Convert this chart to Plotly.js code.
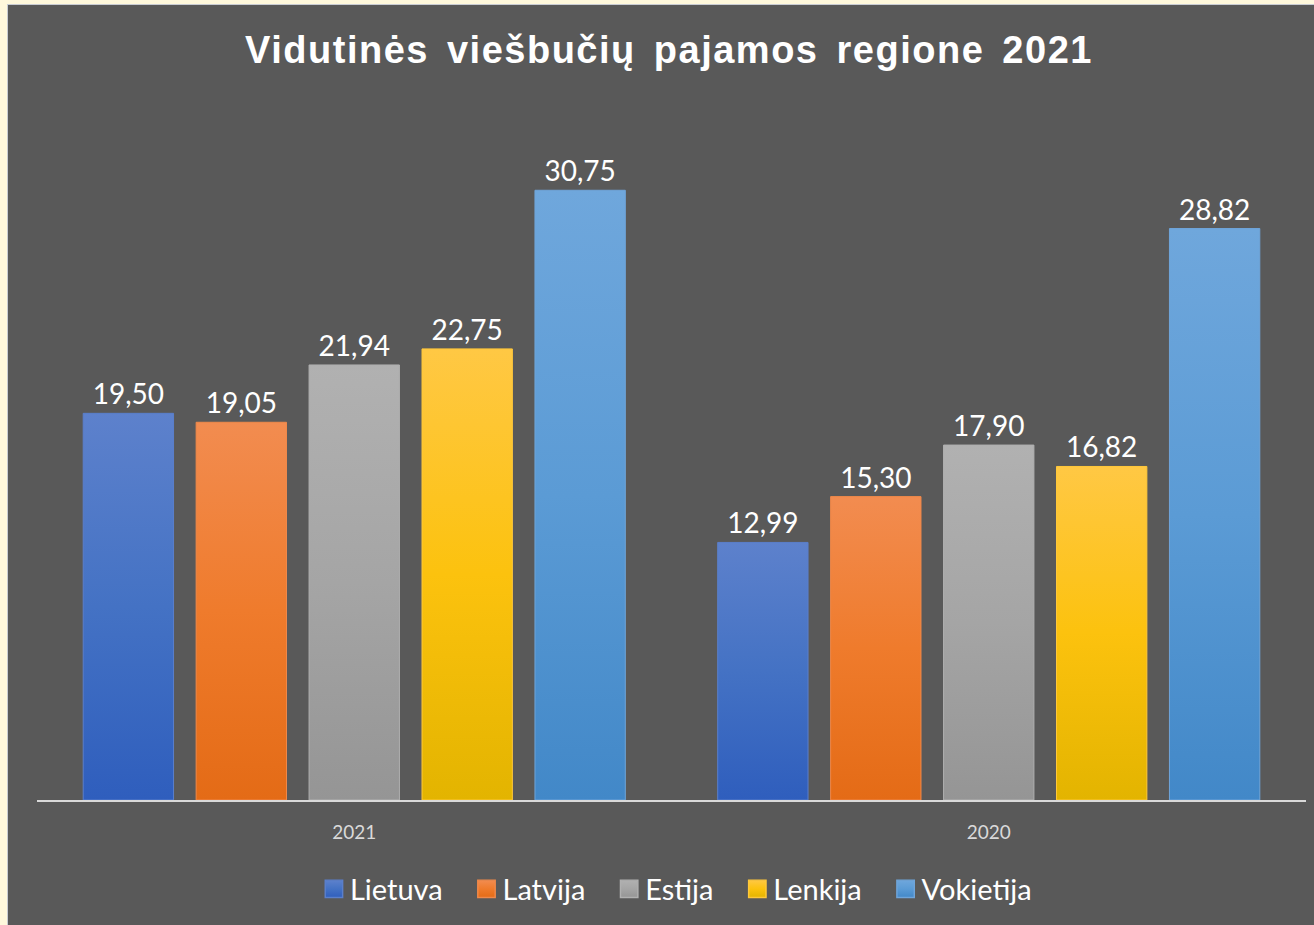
<!DOCTYPE html>
<html>
<head>
<meta charset="utf-8">
<script src="https://cdn.plot.ly/plotly-3.0.1.min.js"></script>
<style>
  html, body { margin:0; padding:0; background:#FFF8DC; width:1314px; height:925px; overflow:hidden; }
  #chart { position:absolute; left:7px; top:4px; width:1307px; height:921px; border-left:1px solid #c9ccd3; border-top:1px solid #c9ccd3; box-sizing:border-box; }
  #chart .gtitle { letter-spacing:1.5px !important; word-spacing:6px !important; }
</style>
</head>
<body>
<div id="chart"></div>
<script>
const categories = ["2021", "2020"];
const seriesNames = ["Lietuva", "Latvija", "Estija", "Lenkija", "Vokietija"];
const lietuva = [19.50, 12.99];
const latvija = [19.05, 15.30];
const estija = [21.94, 17.90];
const lenkija = [22.75, 16.82];
const vokietija = [30.75, 28.82];
const seriesValues = [lietuva, latvija, estija, lenkija, vokietija];
const colors = ["#4472C4", "#EF7B2C", "#A5A5A5", "#FCC20E", "#5B9BD5"];
const topColors = ["#5D81CC", "#F28C50", "#B1B1B1", "#FFC844", "#6FA7DC"];
const bottomColors = ["#2F5EBD", "#E46B16", "#959595", "#E3B400", "#4288C8"];
const edgeColors = ["#5A7FCB", "#F0894A", "#B0B0B0", "#FFC83A", "#6FA5DA"];

const traces = seriesNames.map((name, i) => ({
  type: "bar",
  name: i < seriesNames.length - 1 ? name + "\u00a0\u00a0" : name,
  x: categories,
  y: seriesValues[i],
  marker: { color: colors[i], line: { color: edgeColors[i], width: 1 } },
  texttemplate: "%{y:.2f}",
  textposition: "outside",
  cliponaxis: false,
  textfont: { family: "Lato, 'Open Sans', sans-serif", size: 28, color: "#ffffff" },
  hoverinfo: "skip"
}));

const layout = {
  width: 1306,
  height: 920,
  paper_bgcolor: "#595959",
  plot_bgcolor: "#595959",
  separators: ", ",
  margin: { l: 29, r: 8, t: 101, b: 125 },
  title: {
    text: "<b>Vidutinės viešbučių pajamos regione 2021</b>",
    font: { family: "'Liberation Sans', Arial, sans-serif", size: 38, color: "#ffffff" },
    x: 0.5 + 8 / 1306, xanchor: "center",
    y: 1 - 45 / 920, yanchor: "middle", yref: "container"
  },
  barmode: "group",
  bargap: 0.11,
  bargroupgap: 0.2,
  xaxis: {
    type: "category",
    showline: true,
    linecolor: "#d9d9d9",
    linewidth: 2,
    showgrid: false,
    ticks: "outside",
    ticklen: 14,
    tickcolor: "rgba(0,0,0,0)",
    tickfont: { family: "Lato, 'Open Sans', sans-serif", size: 19, color: "#d9d9d9" },
    fixedrange: true
  },
  yaxis: {
    range: [0, 35],
    visible: false,
    showgrid: false,
    zeroline: false,
    fixedrange: true
  },
  showlegend: true,
  legend: {
    orientation: "h",
    x: 0.5 + 2 / 1306, xanchor: "center",
    y: (920 - 884) / 920, yanchor: "middle", yref: "container",
    font: { family: "Lato, 'Open Sans', sans-serif", size: 29, color: "#ffffff" },
    bgcolor: "rgba(0,0,0,0)",
    itemwidth: 30,
    traceorder: "normal"
  }
};

Plotly.newPlot("chart", traces, layout, { displayModeBar: false, staticPlot: true }).then(gd => {
  const NS = "http://www.w3.org/2000/svg";
  const svg = gd.querySelector("svg.main-svg");
  const defs = document.createElementNS(NS, "defs");
  svg.insertBefore(defs, svg.firstChild);
  seriesNames.forEach((n, i) => {
    const lg = document.createElementNS(NS, "linearGradient");
    lg.setAttribute("id", "barGrad" + i);
    lg.setAttribute("x1", "0"); lg.setAttribute("y1", "0");
    lg.setAttribute("x2", "0"); lg.setAttribute("y2", "1");
    [[0, topColors[i]], [0.5, colors[i]], [1, bottomColors[i]]].forEach(([o, c]) => {
      const s = document.createElementNS(NS, "stop");
      s.setAttribute("offset", o);
      s.setAttribute("stop-color", c);
      lg.appendChild(s);
    });
    defs.appendChild(lg);
  });
  gd.querySelectorAll(".barlayer .trace.bars").forEach((g, i) => {
    g.querySelectorAll(".point path").forEach(p => { p.style.fill = "url(#barGrad" + i + ")"; });
  });
  gd.querySelectorAll(".legend .traces").forEach((g, i) => {
    g.querySelectorAll(".legendpoints path").forEach(p => {
      p.style.fill = "url(#barGrad" + i + ")";
      p.style.stroke = edgeColors[i];
      p.setAttribute("transform", "translate(24,0) scale(1.45)");
    });
  });
});
</script>
</body>
</html>
